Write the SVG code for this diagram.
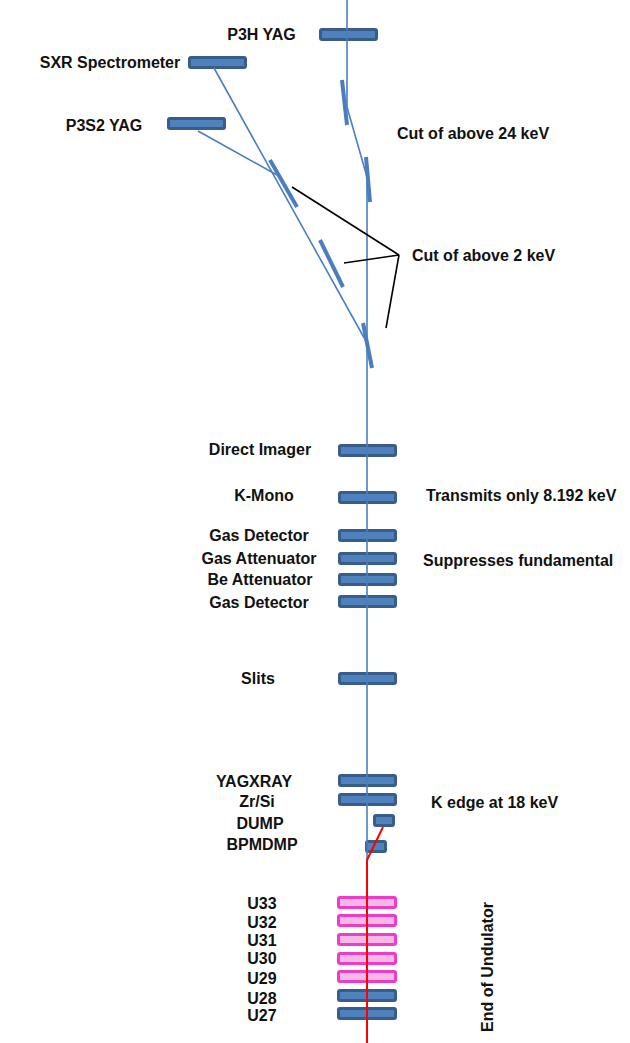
<svg xmlns="http://www.w3.org/2000/svg" width="630" height="1043" viewBox="0 0 630 1043">
<style>
text{font-family:"Liberation Sans",Arial,sans-serif;font-weight:bold;font-size:16px;fill:#111}
.lbl{text-anchor:middle}
.dev{fill:#4F81BD;stroke:#385D8A;stroke-width:3}
.und{fill:#F6B8E6;stroke:#EE3CC8;stroke-width:3}
.beam{stroke:#4A7EBF;stroke-width:1.6;fill:none}
.mir{stroke:#4A7EBF;stroke-width:4;stroke-linecap:butt;fill:none}
.red{stroke:#FF0000;stroke-width:2;fill:none}
.call{stroke:#000;stroke-width:1.6;fill:none}
</style>
<rect width="630" height="1043" fill="#fff"/>
<g id="p3h"><rect class="dev" x="320.5" y="29.5" width="56" height="10" rx="1.5"/><text class="lbl" x="261.5" y="40">P3H YAG</text></g>
<g id="sxr"><rect class="dev" x="189.5" y="57.5" width="56" height="10" rx="1.5"/><text class="lbl" x="110" y="68">SXR Spectrometer</text></g>
<g id="p3s2"><rect class="dev" x="168.5" y="118.5" width="56" height="10" rx="1.5"/><text class="lbl" x="104" y="131">P3S2 YAG</text></g>
<g id="cut24"><text x="397" y="139">Cut of above 24 keV</text></g>
<g id="cut2"><text x="412" y="261">Cut of above 2 keV</text></g>
<g id="direct-imager"><rect class="dev" x="339.5" y="445.5" width="56" height="10" rx="1.5"/><text class="lbl" x="260" y="455">Direct Imager</text></g>
<g id="kmono"><rect class="dev" x="339.5" y="492.5" width="56" height="10" rx="1.5"/><text class="lbl" x="264" y="501">K-Mono</text><text x="426" y="500.5">Transmits only 8.192 keV</text></g>
<g id="gas-det1"><rect class="dev" x="339.5" y="530.5" width="56" height="10" rx="1.5"/><text class="lbl" x="259" y="540.5">Gas Detector</text></g>
<g id="gas-att"><rect class="dev" x="339.5" y="553.5" width="56" height="10" rx="1.5"/><text class="lbl" x="259" y="563.5">Gas Attenuator</text><text x="423" y="565.5">Suppresses fundamental</text></g>
<g id="be-att"><rect class="dev" x="339.5" y="574.5" width="56" height="10" rx="1.5"/><text class="lbl" x="260" y="584.5">Be Attenuator</text></g>
<g id="gas-det2"><rect class="dev" x="339.5" y="596.5" width="56" height="10" rx="1.5"/><text class="lbl" x="259" y="607.5">Gas Detector</text></g>
<g id="slits"><rect class="dev" x="339.5" y="673.5" width="56" height="10" rx="1.5"/><text class="lbl" x="258" y="683.5">Slits</text></g>
<g id="yagxray"><rect class="dev" x="339.5" y="775.5" width="56" height="10" rx="1.5"/><text class="lbl" x="254" y="787">YAGXRAY</text></g>
<g id="zrsi"><rect class="dev" x="339.5" y="794.5" width="56" height="10" rx="1.5"/><text class="lbl" x="257" y="807">Zr/Si</text><text x="431" y="807.5">K edge at 18 keV</text></g>
<g id="dump"><rect class="dev" x="374.5" y="815.5" width="19" height="10" rx="1.5"/><text class="lbl" x="260" y="828.5">DUMP</text></g>
<g id="bpmdmp"><rect class="dev" x="366.5" y="841.5" width="19" height="10" rx="1.5"/><text class="lbl" x="262" y="850">BPMDMP</text></g>
<g id="u33"><rect class="und" x="338.5" y="897.5" width="57" height="10" rx="1.5"/><text class="lbl" x="262" y="908.5">U33</text></g>
<g id="u32"><rect class="und" x="338.5" y="915.5" width="57" height="10" rx="1.5"/><text class="lbl" x="262" y="927.5">U32</text></g>
<g id="u31"><rect class="und" x="338.5" y="934.5" width="57" height="10" rx="1.5"/><text class="lbl" x="262" y="945.5">U31</text></g>
<g id="u30"><rect class="und" x="338.5" y="953.5" width="57" height="10" rx="1.5"/><text class="lbl" x="262" y="963.5">U30</text></g>
<g id="u29"><rect class="und" x="338.5" y="971.5" width="57" height="10" rx="1.5"/><text class="lbl" x="262" y="983.5">U29</text></g>
<g id="u28"><rect class="dev" x="338.5" y="990.5" width="57" height="10" rx="1.5"/><text class="lbl" x="262" y="1003.5">U28</text></g>
<g id="u27"><rect class="dev" x="338.5" y="1008.5" width="57" height="10" rx="1.5"/><text class="lbl" x="262" y="1020.5">U27</text></g>
<g id="end-undulator"><text class="lbl" transform="translate(493,967) rotate(-90)">End of Undulator</text></g>
<g id="connectors">
<line class="beam" x1="367" y1="177" x2="367" y2="860"/>
<line class="beam" x1="347" y1="0" x2="347" y2="107"/>
<line class="beam" x1="347" y1="107" x2="367" y2="177"/>
<line class="beam" x1="214" y1="68" x2="367" y2="343"/>
<line class="beam" x1="198" y1="131" x2="277" y2="175"/>
<line class="mir" x1="342" y1="80" x2="347" y2="125"/>
<line class="mir" x1="366" y1="157" x2="370" y2="202"/>
<line class="mir" x1="270" y1="160" x2="297" y2="207"/>
<line class="mir" x1="320" y1="240" x2="343" y2="287"/>
<line class="mir" x1="363" y1="323" x2="372" y2="368"/>
<line class="call" x1="399" y1="255" x2="292" y2="187"/>
<line class="call" x1="399" y1="255" x2="344" y2="263"/>
<line class="call" x1="399" y1="255" x2="386" y2="328"/>
<line class="red" x1="383" y1="827" x2="367" y2="860"/>
<line class="red" x1="367" y1="860" x2="367" y2="1043"/>
</g>
</svg>
